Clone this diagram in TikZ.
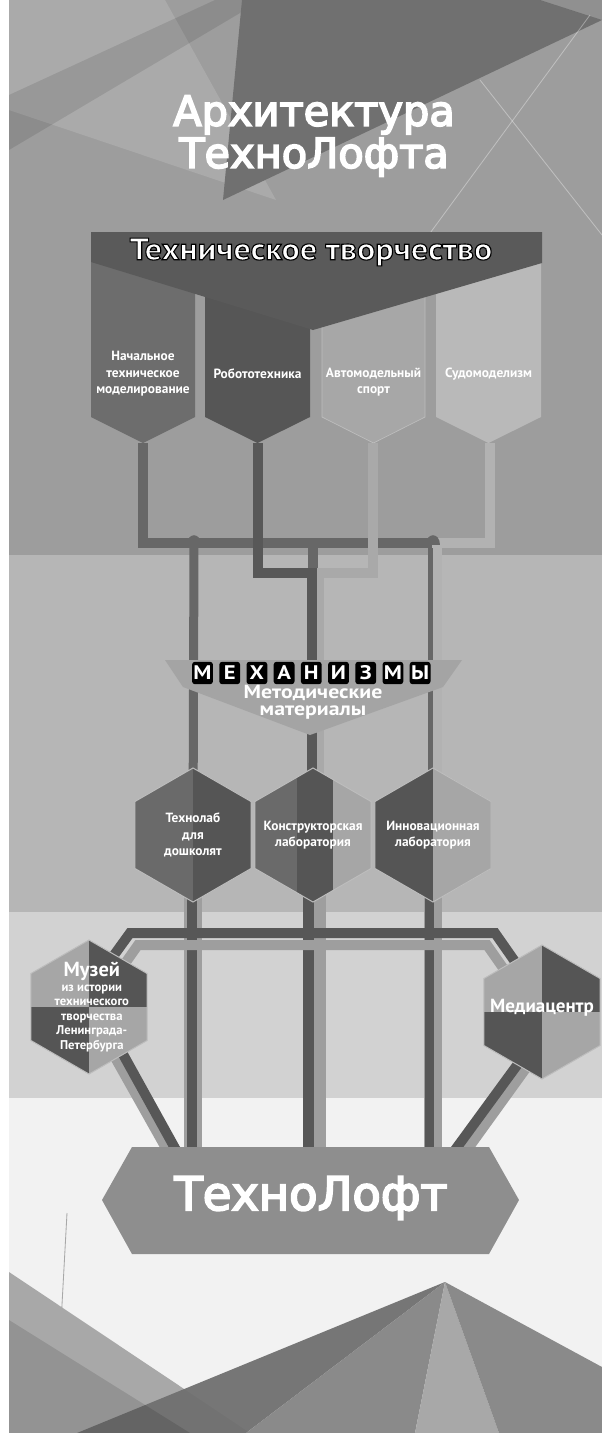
\documentclass[tikz,border=0pt]{standalone}
\usepackage{fontspec}
\setmainfont{PT Sans}
\newfontfamily\headfont[FakeBold=4]{DejaVu Sans}
\newfontfamily\widefont[FakeStretch=1.15]{PT Sans}
\newfontfamily\bannerfont[FakeStretch=1.1]{PT Sans}
\usetikzlibrary{positioning,shapes.geometric,calc}

% black rim round white letters
\newcommand{\rimmed}[1]{\special{pdf:literal direct 2 Tr 0.8 w 0 0 0 RG}#1\special{pdf:literal direct 0 Tr}}

\definecolor{bgtop}{HTML}{9D9D9D}
\definecolor{bgmid}{HTML}{B6B6B6}
\definecolor{bglow}{HTML}{D2D2D2}
\definecolor{bgfoot}{HTML}{F2F2F2}
\definecolor{facetdark}{HTML}{707070}
\definecolor{facetmid}{HTML}{8A8A8A}
\definecolor{facetlight}{HTML}{A8A8A8}
\definecolor{bannerdark}{HTML}{5A5A5A}
\definecolor{colone}{HTML}{6D6D6D}
\definecolor{coltwo}{HTML}{565656}
\definecolor{colthree}{HTML}{A7A7A7}
\definecolor{colfour}{HTML}{B9B9B9}
\definecolor{pipeone}{HTML}{676767}
\definecolor{pipetwo}{HTML}{585858}
\definecolor{pipethree}{HTML}{A9A9A9}
\definecolor{pipefour}{HTML}{B2B2B2}
\definecolor{pipedark}{HTML}{575757}
\definecolor{pipelight}{HTML}{9E9E9E}
\definecolor{mechgray}{HTML}{A4A4A4}
\definecolor{hexdark}{HTML}{555555}
\definecolor{hexmid}{HTML}{6A6A6A}
\definecolor{hexlight}{HTML}{A6A6A6}
\definecolor{hexrim}{HTML}{BDBDBD}
\definecolor{loftgray}{HTML}{8E8E8E}

\pgfdeclarelayer{back}
\pgfdeclarelayer{pipes}
\pgfsetlayers{back,pipes,main}

\tikzset{
  pipe/.style={line width=7.1pt, line cap=butt, line join=miter},
  collabel/.style={text=white, align=center, inner sep=0pt, font=\fontsize{9.5}{11.8}\selectfont\bfseries},
  hexcell/.style={regular polygon, regular polygon sides=6, shape border rotate=30, minimum size=3.35cm, inner sep=0pt, draw=hexrim, line width=0.7pt},
  hexlabel/.style={text=white, align=center, inner sep=0pt, font=\fontsize{9.5}{11.8}\selectfont\bfseries},
  halfsplit/.style 2 args={fill=#1, path picture={\fill[#2] (path picture bounding box.north) rectangle (path picture bounding box.south east);}},
  quadsplit/.style 2 args={fill=#1, path picture={
      \fill[#2] (path picture bounding box.north) rectangle (path picture bounding box.east);
      \fill[#2] (path picture bounding box.west) rectangle (path picture bounding box.south);}},
  lettertile/.style={fill=black, text=white, rounded corners=2pt, minimum width=0.52cm, minimum height=0.56cm, inner sep=0pt, font=\widefont\fontsize{14}{14}\selectfont\bfseries},
  headline/.style={text=white, align=center, inner sep=0pt}
}

\begin{document}
\begin{tikzpicture}[x=0.025cm, y=-0.025cm]
  \useasboundingbox (0,0) rectangle (602,1433);

  \begin{pgfonlayer}{back}
    % bands
    \fill[white] (0,0) rectangle (602,1433);
    \fill[bgtop] (9,0) rectangle (602,555);
    \fill[bgmid] (9,555) rectangle (602,912);
    \fill[bglow] (9,912) rectangle (602,1098);
    \fill[bgfoot] (9,1098) rectangle (602,1433);
    % top facets
    \fill[white, opacity=0.14] (9,0) -- (165,0) -- (276,200) -- (9,110) -- cycle;
    \fill[black, opacity=0.10] (9,95) -- (215,0) -- (262,0) -- (9,150) -- cycle;
    \fill[facetdark] (242,0) -- (540,0) -- (602,20) -- (223,200) -- cycle;
    \fill[black, opacity=0.08] (540,0) -- (602,0) -- (602,20) -- cycle;
    \draw[white, opacity=0.35, line width=0.6pt] (480,80) -- (602,235);
    \draw[white, opacity=0.35, line width=0.6pt] (590,15) -- (425,240);
    % bottom facets
    \draw[facetlight, line width=0.6pt] (67,1213) -- (55,1433);
    \fill[facetlight] (9,1272) -- (250,1433) -- (9,1433) -- cycle;
    \fill[facetdark, opacity=0.95] (445,1282) -- (246,1433) -- (77,1433) -- cycle;
    \fill[facetmid] (445,1282) -- (415,1433) -- (246,1433) -- cycle;
    \fill[facetlight] (445,1282) -- (499,1433) -- (415,1433) -- cycle;
    \fill[facetmid] (445,1282) -- (602,1367) -- (602,1433) -- (499,1433) -- cycle;
    \fill[black, opacity=0.12] (9,1320) -- (190,1433) -- (9,1433) -- cycle;
    % columns
    \fill[colone] (91,240) -- (195,240) -- (195,417) -- (143,443) -- (91,417) -- cycle;
    \fill[coltwo] (205,240) -- (310,240) -- (310,417) -- (257.5,443) -- (205,417) -- cycle;
    \filldraw[fill=colthree, draw=hexrim, line width=0.5pt] (322,240) -- (425,240) -- (425,417) -- (373.5,443) -- (322,417) -- cycle;
    \fill[colfour] (436,240) -- (541,240) -- (541,417) -- (488.5,443) -- (436,417) -- cycle;
    % banner
    \fill[bannerdark] (91,232) -- (542,232) -- (542,263) -- (313,330) -- (91,262) -- cycle;
  \end{pgfonlayer}

  \node[headline, font=\headfont\fontsize{29.5}{30}\selectfont] (title) at (314,136) {Архитектура\\ТехноЛофта};
  \node[headline, font=\bannerfont\fontsize{22}{22}\selectfont\bfseries] (tvorch) at (311,252) {\rimmed{Техническое творчество}};

  \node[collabel] (nachalnoe) at (143,374) {Начальное\\техническое\\моделирование};
  \node[collabel] (robot) at (257.5,374) {Робототехника};
  \node[collabel] (avto) at (373.5,382) {Автомодельный\\спорт};
  \node[collabel] (sudo) at (488.5,374) {Судомоделизм};
  \coordinate (tip1) at (143,443);
  \coordinate (tip2) at (258,443);
  \coordinate (tip3) at (373,443);
  \coordinate (tip4) at (490,443);

  % mechanisms
  \fill[mechgray] (165,660) -- (462,660) -- (443,687) -- (310,735) -- (183,687) -- cycle;
  \foreach \ch [count=\i from 0] in {М,Е,Х,А,Н,И,З,М,Ы}
    \node[lettertile] (mech\i) at (202.5+27.2*\i,673) {\ch};
  \node[headline, font=\widefont\fontsize{13.5}{12}\selectfont\bfseries] (metod) at (313,702) {Методические\\материалы};

  % labs
  \node[hexcell, halfsplit={hexmid}{hexdark}] (tlab) at (193,835) {};
  \node[hexcell, fill=hexlight, path picture={
      \fill[hexmid] (path picture bounding box.north west) rectangle ([xshift=-0.4cm]path picture bounding box.south);
      \fill[hexdark] ([xshift=-0.4cm]path picture bounding box.north) rectangle ([xshift=0.5cm]path picture bounding box.south);}]
    (klab) at (313,835) {};
  \node[hexcell, halfsplit={hexdark}{hexlight}] (ilab) at (433,835) {};
  \node[hexlabel] (tlabtxt) at (tlab) {Технолаб\\для\\дошколят};
  \node[hexlabel] (klabtxt) at (klab) {Конструкторская\\лаборатория};
  \node[hexlabel] (ilabtxt) at (ilab) {Инновационная\\лаборатория};

  \node[hexcell, quadsplit={hexlight}{hexdark}] (muzei) at (89,1007) {};
  \node[hexcell, quadsplit={hexlight}{hexdark}] (media) at (542,1012) {};
  \node[hexlabel, font=\fontsize{9}{10.3}\selectfont\bfseries] (muzeitxt) at ([xshift=2pt]muzei)
    {{\fontsize{14.5}{15}\selectfont Музей}\\из истории\\технического\\творчества\\Ленинграда-\\Петербурга};
  \node[hexlabel, font=\fontsize{13.5}{13}\selectfont\bfseries] (mediatxt) at ([yshift=3pt]media) {Медиацентр};

  % technoloft
  \fill[loftgray] (132,1147) -- (489,1147) -- (519,1200) -- (489,1254) -- (132,1254) -- (102,1200) -- cycle;
  \node[headline, font=\headfont\fontsize{33}{33}\selectfont] (loft) at (311,1198) {ТехноЛофт};
  \coordinate (lofttop) at (311,1150);

  \begin{pgfonlayer}{pipes}
    % from the four columns
    \draw[pipe, pipeone] (tip1) |- (433,543);
    \draw[pipe, pipeone, line width=6.4pt] (194,543) -- (tlab.center);
    \draw[pipe, pipeone] (313,543) -- (313,573);
    \draw[pipe, pipethree] (tip3) |- (319,573) -- (klab.center -| 319,0);
    \draw[pipe, pipetwo] (tip2) |- (312,573) -- (klab.center -| 312,0);
    \draw[pipe, pipefour] (tip4) |- (437,543) -- (ilab.center -| 437,0);
    \draw[pipe, pipeone, line width=3.6pt] (430.5,548) -- (ilab.center -| 430.5,0);
    \fill[pipeone] (187,545) .. controls (187,532) and (201,532) .. (201,545) -- cycle;
    \fill[pipeone] (426,545) .. controls (426,532) and (440,532) .. (440,545) -- cycle;
    % down to the loft
    \draw[pipe, pipelight, line width=12.8pt] (tlab.center) -- (tlab.center |- lofttop);
    \draw[pipe, pipedark] ([xshift=-0.7pt]tlab.center) -- ([xshift=-0.7pt]tlab.center |- lofttop);
    \draw[pipe, pipelight, line width=16.4pt] ([xshift=1pt]klab.center) -- ([xshift=1pt]klab.center |- lofttop);
    \draw[pipe, pipedark, line width=7.8pt] ([xshift=-3pt]klab.center) -- ([xshift=-3pt]klab.center |- lofttop);
    \draw[pipe, pipelight, line width=12.1pt] (ilab.center) -- (ilab.center |- lofttop);
    \draw[pipe, pipedark, line width=6.4pt] ([xshift=-2.8pt]ilab.center) -- ([xshift=-2.8pt]ilab.center |- lofttop);
    % ring round the museum and the media centre
    \draw[pipe, pipelight] (167,1150) -- (90,1013) -- (138,945) -- (487,945) -- (550,1035) -- (467,1150);
    \draw[pipe, pipedark] (176,1150) -- (88,991) -- (130,933) -- (495,933) -- (553,1016) -- (455,1150);
  \end{pgfonlayer}
\end{tikzpicture}
\end{document}
